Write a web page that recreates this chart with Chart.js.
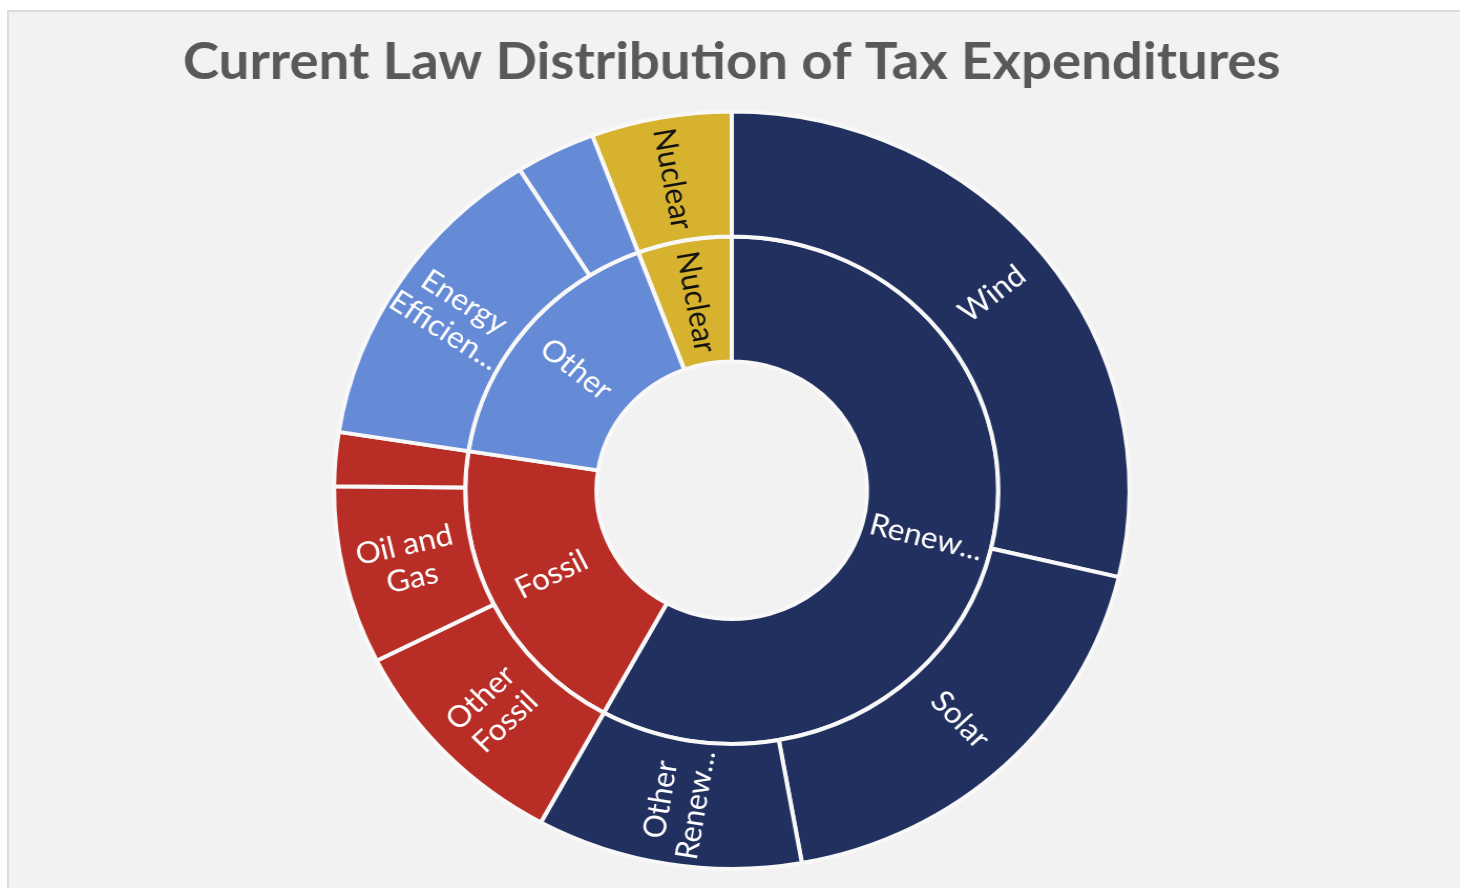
<!DOCTYPE html>
<html>
<head>
<meta charset="utf-8">
<title>Current Law Distribution of Tax Expenditures</title>
<script src="https://cdn.jsdelivr.net/npm/chart.js@4.4.1/dist/chart.umd.min.js"></script>
<style>
  html, body { margin: 0; padding: 0; background: #ffffff; overflow: hidden; }
  #panel {
    position: absolute; left: 7px; top: 10px; width: 1500px; height: 900px;
    background: #f2f2f2; border-left: 2px solid #dcdcdc; border-top: 2px solid #dcdcdc;
  }
  /* the reference picture is a little wider than tall, so stretch the canvas */
  #wrap {
    position: absolute; left: 2px; top: 0; width: 1390px; height: 888px;
    transform: scaleX(1.05); transform-origin: 0 0;
  }
</style>
</head>
<body>
<div id="panel"></div>
<div id="wrap"><canvas id="sunburst"></canvas></div>
<script>
// inner ring: main groups
const groupLabels = ['Renew...', 'Fossil', 'Other', 'Nuclear'];
const groupValues = [58, 19.5, 16.85, 5.7];
const groupColors = ['#21305f', '#b82d25', '#668bd6', '#d6b22e'];

// outer ring: items inside each group (same order, clockwise from top)
const itemLabels = ['Wind', 'Solar', ['Other', 'Renew...'], ['Other', 'Fossil'], ['Oil and', 'Gas'], '',
                    ['Energy', 'Efficien...'], '', 'Nuclear'];
const itemValues = [28.7, 18.5, 10.8, 9.6, 7.6, 2.3, 13.6, 3.25, 5.7];
const itemColors = ['#21305f', '#21305f', '#21305f', '#b82d25', '#b82d25', '#b82d25',
                    '#668bd6', '#668bd6', '#d6b22e'];

// text drawn along the radius of each arc, like the office sunburst
const arcLabels = {
    id: 'arcLabels',
    afterDatasetsDraw(chart) {
        const ctx = chart.ctx;
        chart.data.datasets.forEach((ds, di) => {
            const meta = chart.getDatasetMeta(di);
            meta.data.forEach((arc, i) => {
                let text = ds.arcText[i];
                if (!text) return;
                const lines = Array.isArray(text) ? text : [text];
                const p = arc.getProps(['x', 'y', 'startAngle', 'endAngle', 'innerRadius', 'outerRadius'], true);
                const mid = (p.startAngle + p.endAngle) / 2;
                const r = (p.innerRadius + p.outerRadius) / 2;
                let rot = mid;
                if (Math.cos(mid) < 0) rot += Math.PI;
                ctx.save();
                ctx.translate(p.x + r * Math.cos(mid), p.y + r * Math.sin(mid));
                ctx.rotate(rot);
                ctx.font = '30px Lato';
                ctx.fillStyle = ds.textColors[i];
                ctx.textAlign = 'center';
                ctx.textBaseline = 'middle';
                const lh = 34;
                lines.forEach((ln, k) => {
                    ctx.fillText(ln, 0, (k - (lines.length - 1) / 2) * lh);
                });
                ctx.restore();
            });
        });
    }
};

new Chart(document.getElementById('sunburst'), {
    type: 'doughnut',
    data: {
        labels: itemValues.map((v, i) => 'item' + i),
        datasets: [{
            data: itemValues,
            backgroundColor: itemColors,
            borderColor: '#f8f8f8',
            borderWidth: 4,
            arcText: itemLabels,
            textColors: itemColors.map(c => c === '#d6b22e' ? '#111111' : '#ffffff')
        }, {
            data: groupValues,
            backgroundColor: groupColors,
            borderColor: '#f8f8f8',
            borderWidth: 4,
            arcText: groupLabels,
            textColors: groupColors.map(c => c === '#d6b22e' ? '#111111' : '#ffffff')
        }]
    },
    options: {
        responsive: true,
        maintainAspectRatio: false,
        animation: false,
        cutout: '34%',
        layout: { padding: { top: 0, bottom: 17 } },
        plugins: {
            legend: { display: false },
            tooltip: { enabled: false },
            title: {
                display: true,
                text: 'Current Law Distribution of Tax Expenditures',
                color: '#595959',
                font: { family: 'Lato', size: 52, weight: 'bold', lineHeight: 1.2 },
                padding: { top: 31, bottom: 16 }
            }
        }
    },
    plugins: [arcLabels]
});
</script>
</body>
</html>
